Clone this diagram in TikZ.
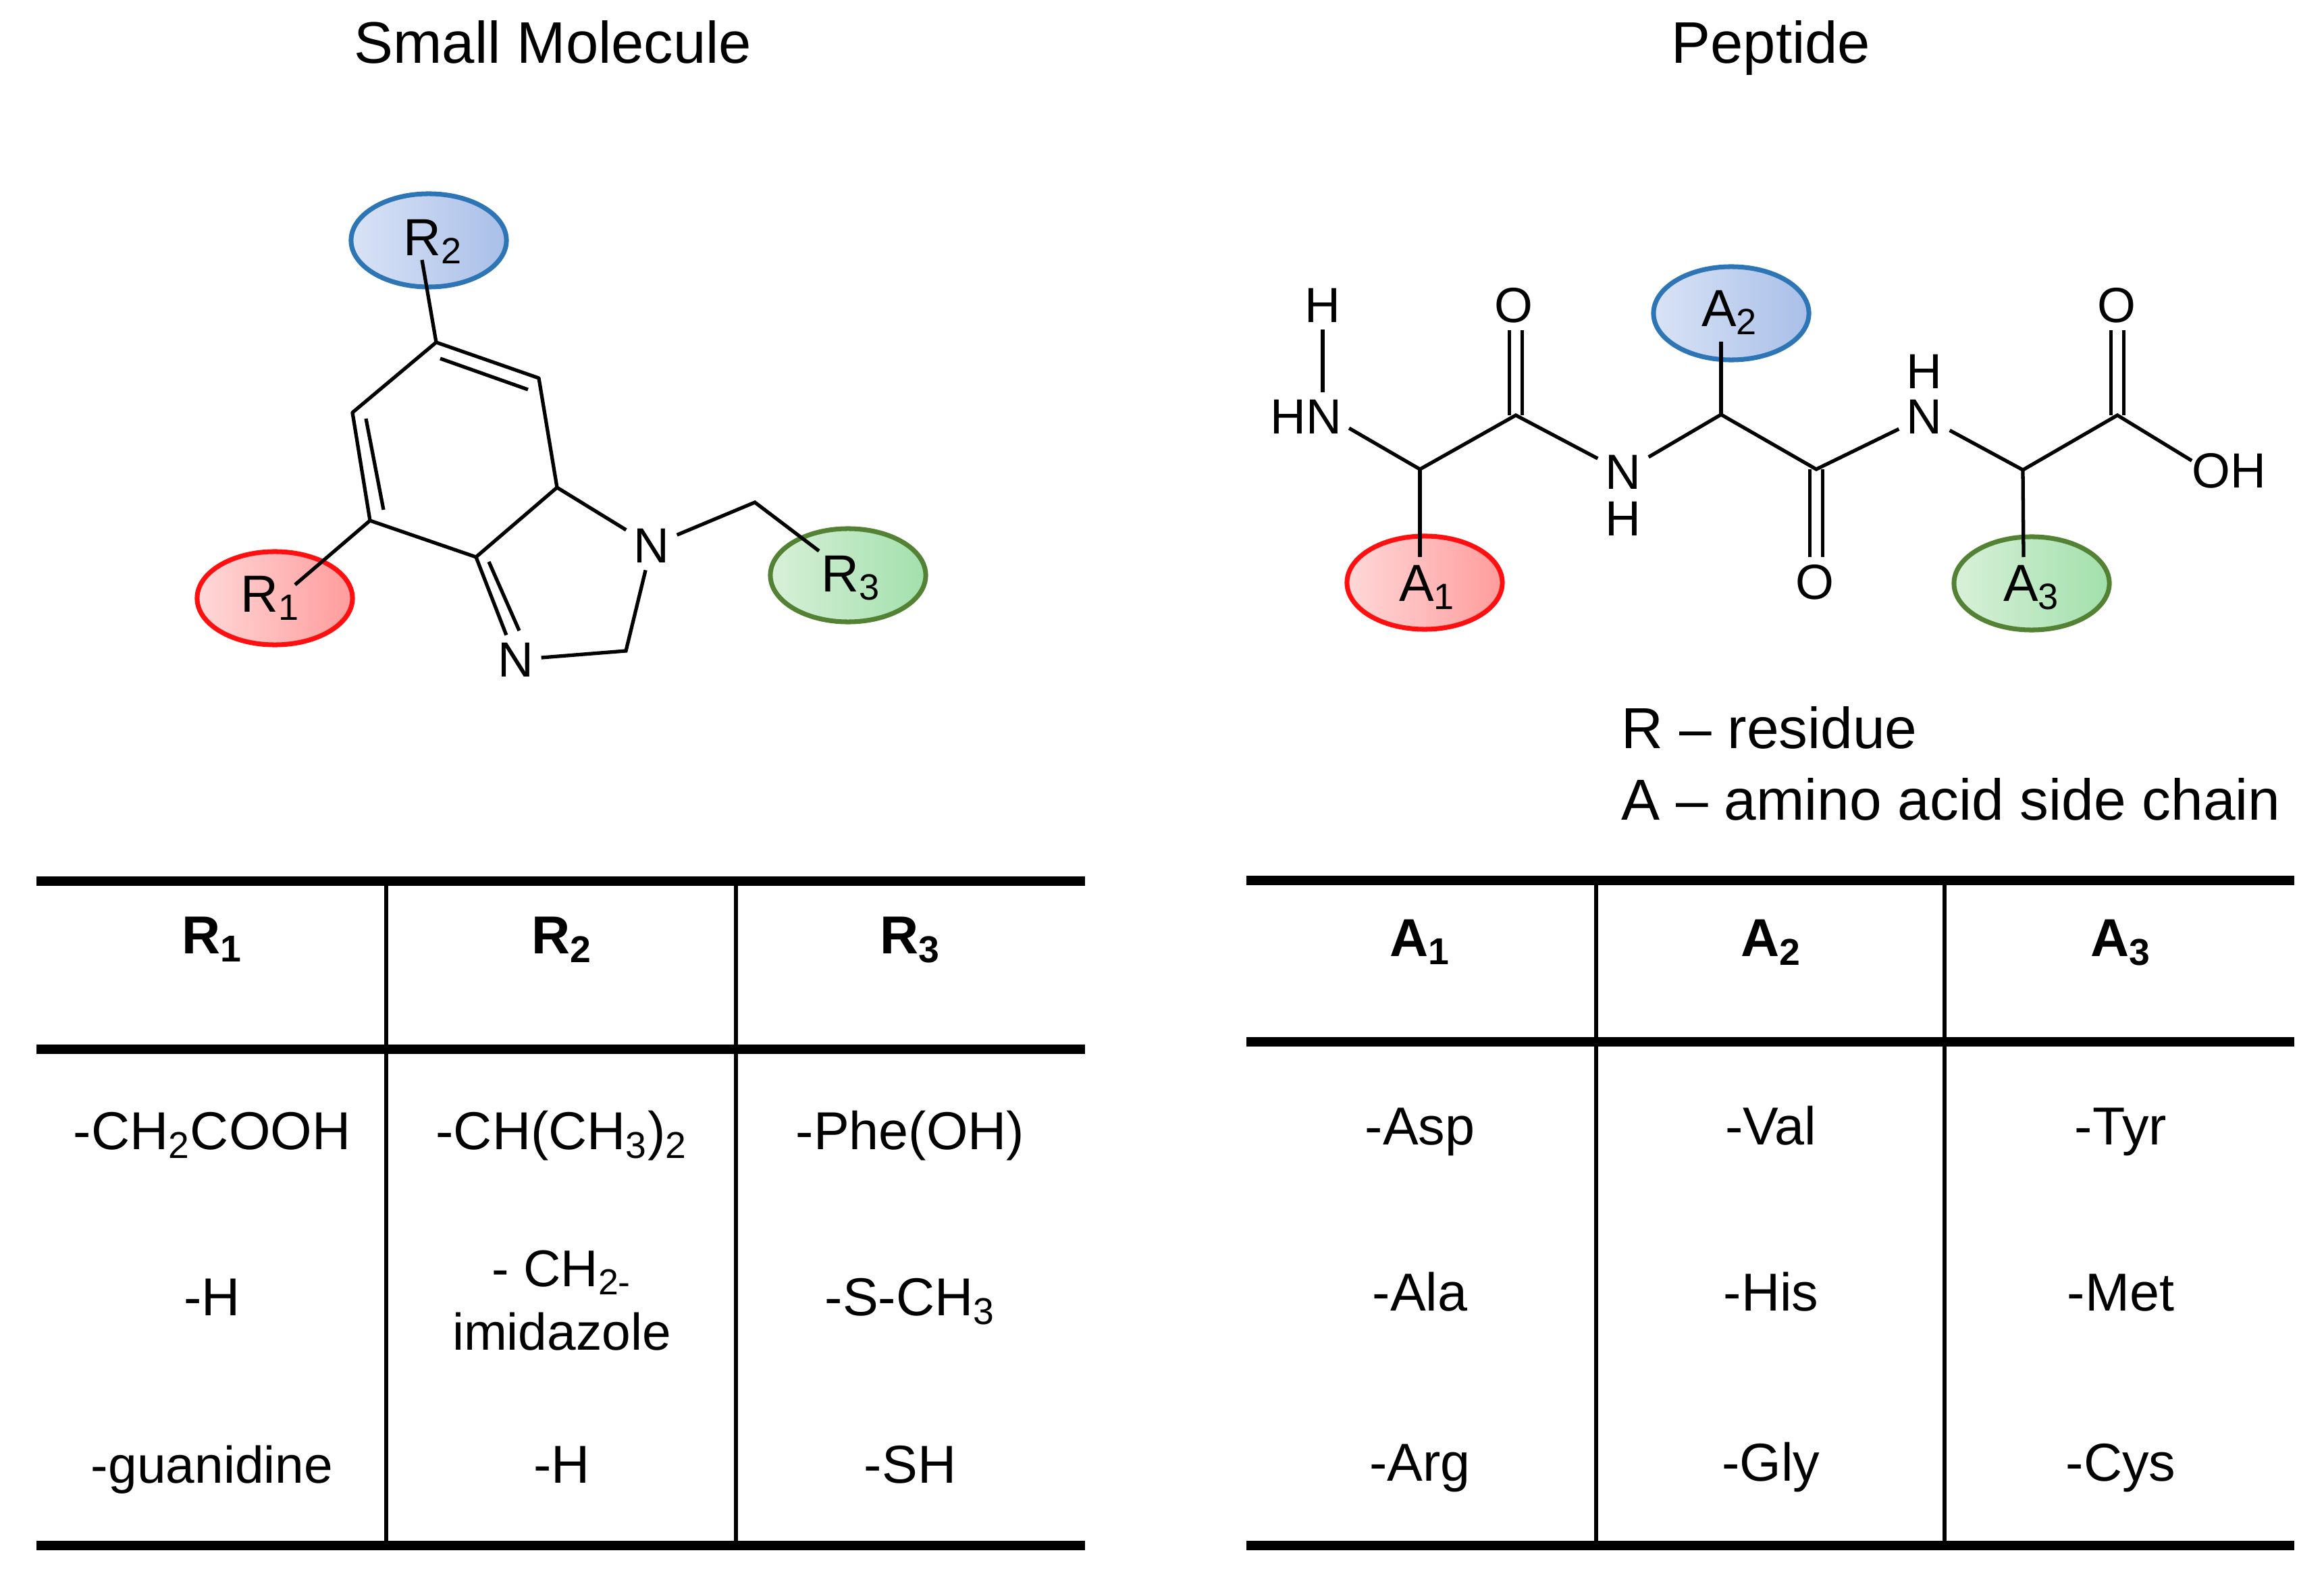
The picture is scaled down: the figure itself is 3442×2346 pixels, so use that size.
\documentclass[tikz,border=0pt]{standalone}
\usepackage{fontspec}
\setmainfont{Liberation Sans}
\usetikzlibrary{shapes.geometric}
\definecolor{redline}{HTML}{FF0F0F}
\definecolor{blueline}{HTML}{2E75B6}
\definecolor{greenline}{HTML}{548235}
\tikzset{
  bond/.style={line width=1.5pt},
  dbond/.style={line width=1.4pt,double,double distance=4pt},
  atom/.style={font=\fontsize{20.8}{25}\selectfont,inner sep=3.2pt,outer sep=0pt},
  tag/.style={font=\fontsize{22}{26}\selectfont,inner sep=0pt},
  heading/.style={font=\fontsize{24.7}{29}\selectfont,anchor=base,inner sep=0pt},
  legend/.style={font=\fontsize{24.35}{29}\selectfont,anchor=base west,inner sep=0pt},
  cell/.style={font=\fontsize{22.5}{26.7}\selectfont,anchor=base,inner sep=0pt,align=center},
  slimcell/.style={cell,font=\fontsize{21.8}{26.7}\selectfont},
  headcell/.style={cell,font=\fontsize{22.5}{26.7}\selectfont\bfseries},
  thickrule/.style={line width=4pt},
  thinrule/.style={line width=1.6pt},
  blob/.style={ellipse,minimum width=2.3cm,minimum height=1.38cm,inner sep=0pt,line width=2pt},
  redblob/.style={blob,draw=redline,left color=blobredl,right color=blobredr},
  blueblob/.style={blob,draw=blueline,left color=blobbluel,right color=blobbluer},
  greenblob/.style={blob,draw=greenline,left color=blobgreenl,right color=blobgreenr}
}
\definecolor{blobredl}{HTML}{FFD8D8}
\definecolor{blobredr}{HTML}{FF9C9C}
\definecolor{blobbluel}{HTML}{D9E3F6}
\definecolor{blobbluer}{HTML}{A9BFE8}
\definecolor{blobgreenl}{HTML}{D8F0D8}
\definecolor{blobgreenr}{HTML}{A2E0AC}
\begin{document}
\begin{tikzpicture}[x=0.01cm,y=-0.01cm]
\useasboundingbox (0,0) rectangle (3442,2346);
\node[heading] (titleleft) at (819,94) {Small Molecule};
\node[heading] (titleright) at (2623,94) {Peptide};
% small molecule
\node[blueblob] (blobrb) at (635,356) {};
\node[redblob] (blobra) at (407,886) {};
\node[greenblob] (blobrc) at (1256,852) {};
\node[atom] (NA) at (965,808) {N};
\node[atom] (NB) at (764,977) {N};
\coordinate (ra) at (646,507);
\coordinate (rb) at (798,560);
\coordinate (rc) at (825,722);
\coordinate (rd) at (705,825);
\coordinate (re) at (548,771);
\coordinate (rf) at (522,611);
\coordinate (rg) at (927,964);
\coordinate (ch) at (1118,744);
\coordinate (tipa) at (625,385);
\coordinate (tipb) at (437,866);
\coordinate (tipc) at (1213,816);
\coordinate (ina) at (652,531);
\coordinate (inb) at (782,577);
\coordinate (inc) at (542,620);
\coordinate (ind) at (568,755);
\coordinate (ine) at (724,832);
\coordinate (inf) at (769,934);
\draw[bond,line join=round] (ra) -- (rb) -- (rc) -- (rd) -- (re) -- (rf) -- cycle;
\draw[bond] (tipa) -- (ra);
\draw[bond] (tipb) -- (re);
\draw[bond] (ina) -- (inb);
\draw[bond] (inc) -- (ind);
\draw[bond] (rc) -- (NA);
\draw[bond] (rd) -- (NB);
\draw[bond] (ine) -- (inf);
\draw[bond] (NA) -- (rg) -- (NB);
\draw[bond] (NA) -- (ch) -- (tipc);
\node[tag] (R2) at (641,358) {R\textsubscript{2}};
\node[tag] (R1) at (400,886) {R\textsubscript{1}};
\node[tag] (R3) at (1260,856) {R\textsubscript{3}};
% peptide
\node[blueblob] (blobab) at (2564,464) {};
\node[redblob] (blobaa) at (2110,863) {};
\node[greenblob] (blobac) at (3009,864) {};
\node[atom] (HT) at (1959,452) {H};
\node[atom] (HN) at (1934,617) {HN};
\node[atom] (OA) at (2242,452) {O};
\node[atom] (NM) at (2404,699) {N};
\node[atom] (HM) at (2404,768) {H};
\node[atom] (OB) at (2688,862) {O};
\node[atom] (NR) at (2850,617) {N};
\node[atom] (HR) at (2850,550) {H};
\node[atom] (OC) at (3135,452) {O};
\node[atom,inner sep=0pt] (OH) at (3301,697) {OH};
\coordinate (caa) at (2103,695);
\coordinate (cob) at (2245,615);
\coordinate (cac) at (2549,614);
\coordinate (cod) at (2690,695);
\coordinate (cae) at (2996,696);
\coordinate (cof) at (3136,615);
\coordinate (tipd) at (2103,825);
\coordinate (tipe) at (2549,506);
\coordinate (tipf) at (2997,825);
\draw[dbond] (cob) -- (cob |- OA.south);
\draw[dbond] (cod) -- (cod |- OB.north);
\draw[dbond] (cof) -- (cof |- OC.south);
\draw[bond] (HT.south) -- (HT.south |- HN.north);
\draw[bond] (HN.-15) -- (caa) -- (cob) -- (NM);
\draw[bond] (NM) -- (cac) -- (cod) -- (NR);
\draw[bond] (NR) -- (cae) -- (cof) -- (OH.165);
\draw[bond] (caa) -- (tipd);
\draw[bond] (cac) -- (tipe);
\draw[bond] (cae) -- (tipf);
\node[tag] (A2) at (2562,463) {A\textsubscript{2}};
\node[tag] (A1) at (2114,870) {A\textsubscript{1}};
\node[tag] (A3) at (3009,870) {A\textsubscript{3}};
% legend
\node[legend] (legenda) at (2401,1108) {R – residue};
\node[legend] (legendb) at (2401,1214) {A – amino acid side chain};
% left table
\draw[thickrule] (54,1305) -- (1607,1305);
\draw[thickrule] (54,1554) -- (1607,1554);
\draw[thickrule] (54,2289) -- (1607,2289);
\draw[thinrule] (572,1298) -- (572,2296);
\draw[thinrule] (1090,1298) -- (1090,2296);
\node[headcell] (headra) at (314,1412) {R\textsubscript{1}};
\node[headcell] (headrb) at (832,1412) {R\textsubscript{2}};
\node[headcell] (headrc) at (1348,1412) {R\textsubscript{3}};
\node[cell] (raa) at (314,1702) {-CH\textsubscript{2}COOH};
\node[cell] (rab) at (314,1948) {-H};
\node[slimcell] (rac) at (314,2196) {-guanidine};
\node[cell] (rba) at (832,1702) {-CH(CH\textsubscript{3})\textsubscript{2}};
\node[slimcell] (rbb) at (832,1999) {- CH\textsubscript{2-}\\imidazole};
\node[cell] (rbc) at (832,2196) {-H};
\node[cell] (rca) at (1348,1702) {-Phe(OH)};
\node[cell] (rcb) at (1348,1948) {-S-CH\textsubscript{3}};
\node[cell] (rcc) at (1348,2196) {-SH};
% right table
\draw[thickrule] (1846,1304) -- (3398,1304);
\draw[thickrule] (1846,1543) -- (3398,1543);
\draw[thickrule] (1846,2289) -- (3398,2289);
\draw[thinrule] (2364,1298) -- (2364,2296);
\draw[thinrule] (2880,1298) -- (2880,2296);
\node[headcell] (headaa) at (2103,1416) {A\textsubscript{1}};
\node[headcell] (headab) at (2623,1416) {A\textsubscript{2}};
\node[headcell] (headac) at (3141,1416) {A\textsubscript{3}};
\node[cell] (aaa) at (2103,1695) {-Asp};
\node[cell] (aab) at (2103,1941) {-Ala};
\node[cell] (aac) at (2103,2193) {-Arg};
\node[cell] (aba) at (2623,1695) {-Val};
\node[cell] (abb) at (2623,1941) {-His};
\node[cell] (abc) at (2623,2193) {-Gly};
\node[cell] (aca) at (3141,1695) {-Tyr};
\node[cell] (acb) at (3141,1941) {-Met};
\node[cell] (acc) at (3141,2193) {-Cys};
\end{tikzpicture}
\end{document}
